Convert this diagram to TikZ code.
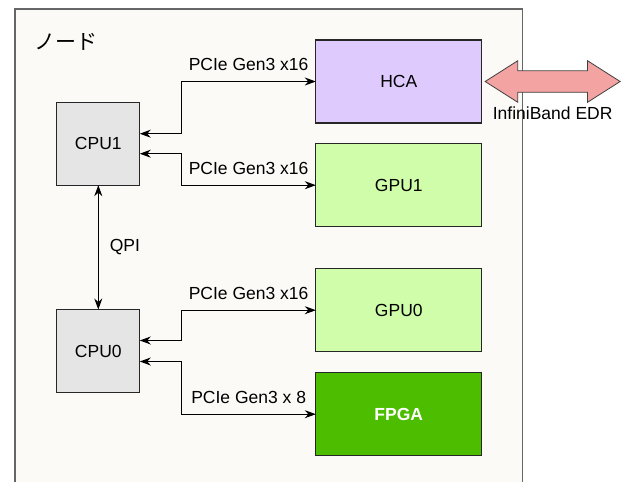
\documentclass[tikz,border=0pt]{standalone}
\usepackage{fontspec}
\setmainfont{Liberation Sans}
\newfontfamily\jpfont{Noto Sans CJK JP}
\usetikzlibrary{positioning, arrows.meta, shapes.arrows}
\definecolor{nodebg}{HTML}{FBFAF7}
\definecolor{cpugray}{HTML}{E5E5E5}
\definecolor{hcapurple}{HTML}{DFCAFD}
\definecolor{gpugreen}{HTML}{CFFDA9}
\definecolor{fpgagreen}{HTML}{4DBD00}
\definecolor{ibred}{HTML}{F4A3A3}
\tikzset{
	edge/.style={line width=1pt, <->, >={Stealth[length=11pt, width=8pt]}},
	unit/.style={
		rectangle,
		draw=black!85,
		line width=1.2pt,
		align=center,
		minimum width=166pt,
		minimum height=83pt,
		inner sep=0pt,
		outer sep=0pt,
		font=\fontsize{17.5}{21}\selectfont
	},
	cpu/.style={unit, fill=cpugray, minimum width=83pt},
	hca/.style={unit, fill=hcapurple},
	gpu/.style={unit, fill=gpugreen},
	fpga/.style={unit, fill=fpgagreen, text=white, font=\fontsize{17.5}{21}\selectfont\bfseries},
	link/.style={font=\fontsize{17.5}{21}\selectfont, inner sep=3pt},
	ibarrow/.style={
		double arrow,
		draw=black!75,
		fill=ibred,
		line width=0.8pt,
		minimum height=135pt,
		inner xsep=0pt,
		inner ysep=10.35pt,
		double arrow head extend=10pt,
		double arrow tip angle=65
	}
}

\begin{document}
\begin{tikzpicture}[x=1pt, y=-1pt]
	\useasboundingbox (0,0) rectangle (624,482);
	% node enclosure
	\draw[fill=nodebg, draw=black!60, line width=1.3pt] (15,9) rectangle (522.7,490);
	\node[anchor=west, inner sep=0pt, font=\jpfont\fontsize{21}{25}\selectfont] (title) at (34,42) {ノード};

	\node[cpu] (cpu1) at (98.3,143.7) {CPU1};
	\node[cpu, below=124.3pt of cpu1] (cpu0) {CPU0};

	\node[hca] (hca) at (398.8,81.5) {HCA};
	\node[gpu, below=20.7pt of hca] (gpu1) {GPU1};
	\node[gpu, below=42pt of gpu1] (gpu0) {GPU0};
	\node[fpga, below=21pt of gpu0] (fpga) {FPGA};

	\node[ibarrow, right=2.6pt of hca] (ib) {};
	\node[link, below=11pt of ib] (iblabel) {InfiniBand EDR};

	\draw[edge] (cpu1) -- (cpu0) node[midway, link, right=8pt] {QPI};

	\draw[edge] ([yshift=10pt]cpu1.east) -- ++(41.7,0) |- (hca.west) node[pos=0.75, link, above=7pt] {PCIe Gen3 x16};
	\draw[edge] ([yshift=-10pt]cpu1.east) -- ++(41.7,0) |- (gpu1.west) node[pos=0.75, link, above=7pt] {PCIe Gen3 x16};
	\draw[edge] ([yshift=10.5pt]cpu0.east) -- ++(41.7,0) |- (gpu0.west) node[pos=0.75, link, above=7pt] {PCIe Gen3 x16};
	\draw[edge] ([yshift=-10.5pt]cpu0.east) -- ++(41.7,0) |- (fpga.west) node[pos=0.75, link, above=7pt] {PCIe Gen3 x 8};
\end{tikzpicture}
\end{document}
